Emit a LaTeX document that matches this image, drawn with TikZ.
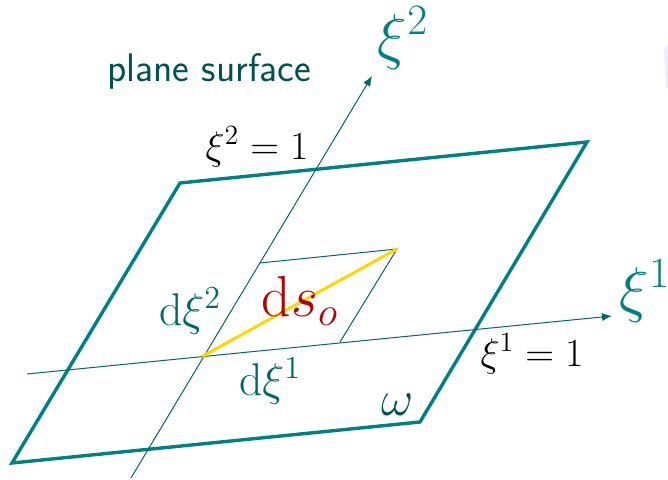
\documentclass[tikz,border=0pt]{standalone}
\usepackage{fix-cm}
\usepackage{amsmath}
\usepackage{tikz}
\usetikzlibrary{arrows.meta,positioning,calc}
\usepackage{xcolor}
\definecolor{surfteal}{RGB}{0,128,128}
\definecolor{axisteal}{RGB}{0,102,102}
\definecolor{lbldark}{RGB}{0,82,82}
\definecolor{dsred}{RGB}{185,0,0}
\definecolor{dsgold}{RGB}{255,215,0}

\begin{document}
\begin{tikzpicture}[x=0.5bp, y=-0.5bp,
    surf/.style={draw=surfteal, line width=1.7bp, line join=miter},
    axis/.style={draw=axisteal, line width=0.5bp, -{Latex[length=5bp,width=4bp]}},
    cell/.style={draw=axisteal, line width=0.5bp},
    biglbl/.style={text=surfteal, font=\fontsize{31}{36}\selectfont},
    dlbl/.style={text=axisteal, font=\fontsize{23}{27}\selectfont},
    eqlbl/.style={text=black, font=\fontsize{20}{24}\selectfont}]
        \useasboundingbox (0,0) rectangle (668,480);

        % faint leftover at the right edge
        \fill[blue!7] (664,50) to[out=95,in=180] (668,45) -- (668,88) -- (666,88) -- cycle;

        % Surface corners
        \coordinate (w1) at (12,463);
        \coordinate (w2) at (420,422);
        \coordinate (w3) at (587,142);
        \coordinate (w4) at (180,183);

        % Axes
        \coordinate (a1s) at (27,374);
        \coordinate (a1e) at (612,316);
        \coordinate (a2s) at (131,478);
        \coordinate (a2e) at (372,76);

        % Cell
        \coordinate (o) at (203,356);
        \coordinate (e1) at (340,342);
        \coordinate (e2) at (260,263);
        \coordinate (e12) at (397,249);

        \draw[surf] (w1) -- (w2) -- (w3) -- (w4) -- cycle;
        \draw[axis] (a1s) -- (a1e);
        \draw[axis] (a2s) -- (a2e);
        \draw[cell] (e2) -- (e12) -- (e1);
        \draw[dsgold, line width=1.5bp, line cap=round] (o) -- (e12);

        % Labels
        \node[text=lbldark, font=\fontsize{20}{24}\selectfont\sffamily] (title) at (209,71) {plane surface};
        \node[biglbl] (xi2) at (403,38) {$\xi^2$};
        \node[biglbl] (xi1) at (645,291) {$\xi^1$};
        \node[eqlbl] (xi2one) at (257,147) {$\xi^2=1$};
        \node[eqlbl] (xi1one) at (532,354) {$\xi^1=1$};
        \node[dlbl] (dxi2) at (190,311) {$\mathrm{d}\xi^2$};
        \node[dlbl] (dxi1) at (270,381) {$\mathrm{d}\xi^1$};
        \node[text=dsred, font=\fontsize{29}{34}\selectfont] (ds) at (300,301) {$\mathrm{d}s_o$};
        \node[text=lbldark, font=\fontsize{25}{29}\selectfont] (om) at (398,405) {$\omega$};
    \end{tikzpicture}
\end{document}
